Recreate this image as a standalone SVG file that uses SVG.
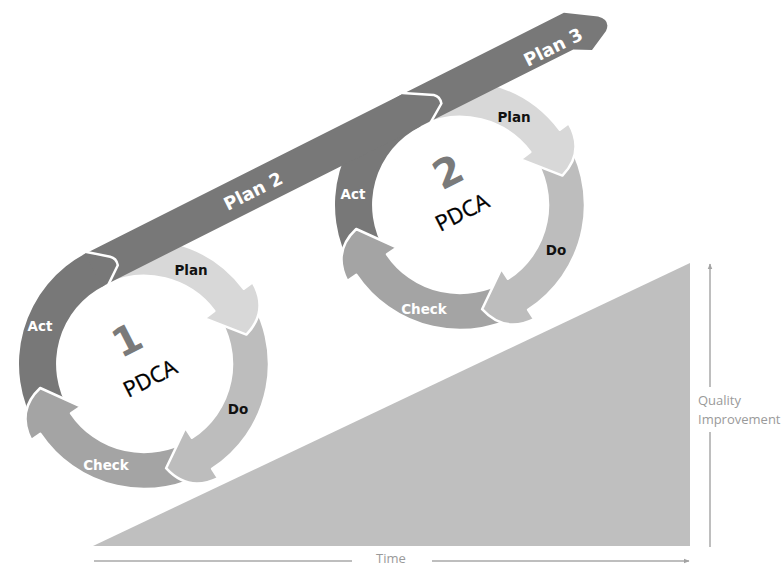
<svg xmlns="http://www.w3.org/2000/svg" width="783" height="566" viewBox="0 0 783 566">
  <defs>
    <marker id="ax" viewBox="0 0 10 10" refX="9" refY="5" markerWidth="6" markerHeight="6" orient="auto" markerUnits="userSpaceOnUse">
      <path d="M0,1 L10,5 L0,9 Z" fill="#a3a3a3"/>
    </marker>
  </defs>
  <style>
    .act{fill:#787878}
    .check{fill:#a4a4a4;stroke:#fff;stroke-width:2.5;stroke-linejoin:round}
    .do{fill:#bdbdbd;stroke:#fff;stroke-width:2.5;stroke-linejoin:round}
    .plan{fill:#d8d8d8;stroke:#fff;stroke-width:2.5;stroke-linejoin:round}
    .seam{fill:none;stroke:#fff;stroke-width:2.5;stroke-linejoin:round;stroke-linecap:round}
    .lbl{font-family:"DejaVu Sans",sans-serif;font-weight:bold;font-size:13.5px;text-anchor:middle}
    .w{fill:#fff}
    .k{fill:#111}
    .num{font-family:"DejaVu Sans",sans-serif;font-weight:bold;font-size:40px;fill:#7a7a7a;text-anchor:middle}
    .pdca{font-family:"Open Sans",sans-serif;font-size:22px;fill:#000;text-anchor:middle;stroke:#000;stroke-width:0.35}
    .bandtxt{font-family:"DejaVu Sans",sans-serif;font-weight:bold;font-size:18px;fill:#fff;text-anchor:middle}
    .axis{stroke:#a8a8a8;stroke-width:1.5;fill:none}
    .axtxt{font-family:"Open Sans",sans-serif;font-size:13px;fill:#9a9a9a}
  </style>

  <!-- rising quality wedge -->
  <polygon id="wedge" points="93,546 690,546 690,263" fill="#bfbfbf"/>

  <!-- axes -->
  <g id="axes">
    <line class="axis" x1="94" y1="561" x2="352" y2="561"/>
    <line class="axis" x1="432" y1="561" x2="689" y2="561" marker-end="url(#ax)"/>
    <text class="axtxt" x="391" y="562.5" text-anchor="middle" font-size="11px">Time</text>
    <line class="axis" x1="710" y1="387" x2="710" y2="264" marker-end="url(#ax)"/>
    <line class="axis" x1="710" y1="432" x2="710" y2="547"/>
    <text class="axtxt" x="698" y="405">Quality</text>
    <text class="axtxt" x="698" y="424">Improvement</text>
  </g>

  <!-- cycle 1, centre (144,364) -->
  <g id="cycle1-act">
    <path class="act" d="M38 430.2 A125 125 0 0 1 87.8 252.3 L104.5 285.4 A88 88 0 0 0 69.4 410.6 Z"/>
    <text class="lbl w" x="40" y="331">Act</text>
  </g>
  <g id="cycle1-check">
    <path class="check" d="M208.4 471.2 A125 125 0 0 1 40.4 433.9 L31.3 440.1 Q16.2 410.5 40.2 388 L81 406.5 L71 413.2 A88 88 0 0 0 189.3 439.4 Z"/>
    <text class="lbl w" x="106" y="470">Check</text>
  </g>
  <g id="cycle1-do">
    <path class="do" d="M246.4 292.3 A125 125 0 0 1 212.1 468.8 L218.1 478.1 Q188.3 492.6 166.1 468.2 L185.4 427.7 L191.9 437.8 A88 88 0 0 0 216.1 313.5 Z"/>
    <text class="lbl k" x="238" y="414">Do</text>
  </g>
  <g id="cycle1-plan">
    <path class="plan" d="M91.2 250.7 A125 125 0 0 1 243.8 288.8 L252.6 282.2 Q269.2 310.9 246.4 334.6 L204.7 318.3 L214.3 311 A88 88 0 0 0 106.8 284.2 Z"/>
    <text class="lbl k" x="191" y="275">Plan</text>
  </g>
  <g id="cycle1-title">
    <text class="num" transform="translate(127,340) rotate(-27)" y="14">1</text>
    <text class="pdca" transform="translate(150,378) rotate(-27)" y="8">PDCA</text>
  </g>

  <!-- cycle 2, centre (460,205) -->
  <g id="cycle2-act">
    <path class="act" d="M354 271.2 A125 125 0 0 1 403.8 93.3 L420.5 126.4 A88 88 0 0 0 385.4 251.6 Z"/>
  </g>
  <g id="cycle2-check">
    <path class="check" d="M524.4 312.2 A125 125 0 0 1 356.4 274.9 L347.3 281.1 Q332.2 251.5 356.2 229 L397 247.5 L387 254.2 A88 88 0 0 0 505.3 280.4 Z"/>
    <text class="lbl w" x="424" y="314">Check</text>
  </g>
  <g id="cycle2-do">
    <path class="do" d="M562.4 133.3 A125 125 0 0 1 528.1 309.8 L534.1 319.1 Q504.3 333.6 482.1 309.2 L501.4 268.7 L507.9 278.8 A88 88 0 0 0 532.1 154.5 Z"/>
    <text class="lbl k" x="556" y="255">Do</text>
  </g>
  <g id="cycle2-plan">
    <path class="plan" d="M407.2 91.7 A125 125 0 0 1 559.8 129.8 L568.6 123.2 Q585.2 151.9 562.4 175.6 L520.7 159.3 L530.3 152 A88 88 0 0 0 422.8 125.2 Z"/>
    <text class="lbl k" x="514" y="122">Plan</text>
  </g>

  <!-- rising band: Plan 2 / Plan 3 -->
  <g id="band">
    <path class="act" d="M85.1 253.65 L563.9 12.8 L598 16.5 Q611 20 606 31 L592 50 L573.3 49.4 L101.7 286.65 Z"/>
    <path class="seam" d="M86.5 251.9 L110.2 256.7 Q116.4 258 117.8 265.2 L108.5 284.4"/>
    <path class="seam" d="M402.5 92.9 L433.8 95 Q440 96.3 441.4 103.5 L430.7 122.3"/>
    <text class="bandtxt" transform="translate(253,191) rotate(-26.7)" y="6.5">Plan 2</text>
    <text class="bandtxt" transform="translate(553,47) rotate(-26.7)" y="6.5">Plan 3</text>
    <text class="lbl w" x="353" y="199">Act</text>
  </g>

  <g id="cycle2-title">
    <text class="num" transform="translate(448,172) rotate(-27)" y="14">2</text>
    <text class="pdca" transform="translate(462,212) rotate(-27)" y="8">PDCA</text>
  </g>
</svg>
